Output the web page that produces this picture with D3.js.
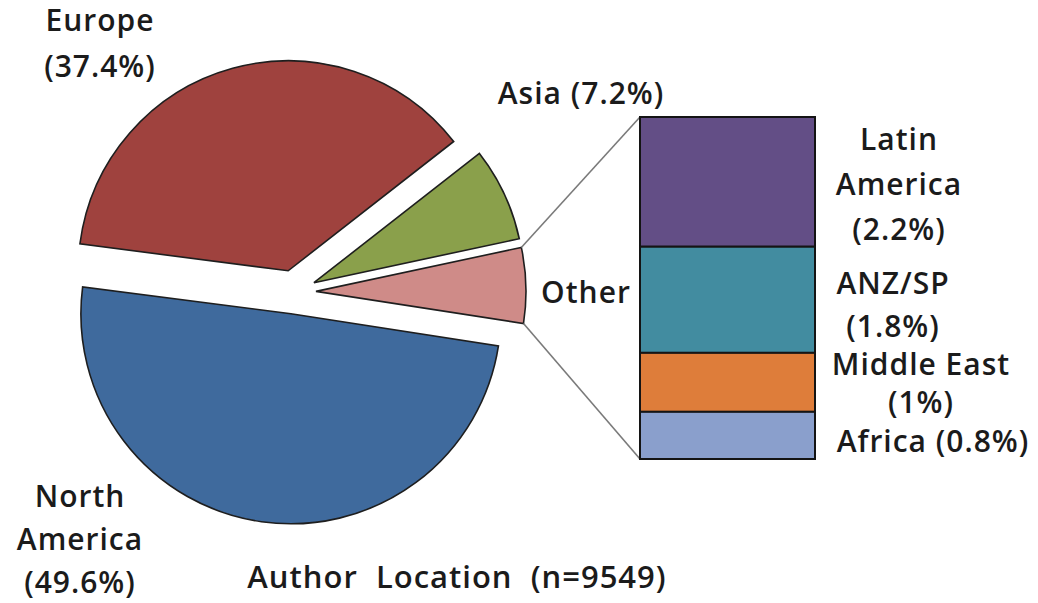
<!DOCTYPE html>
<html lang="en">
<head>
	<meta charset="UTF-8">
	<title>Author Location</title>
	<script type="text/javascript" src="https://cdn.jsdelivr.net/npm/d3@7/dist/d3.min.js"></script>
	<style>
		body {
			margin: 0;
			background: #fff;
		}

		svg text {
			font-family: "Open Sans", Lato, sans-serif;
			font-weight: 600;
			font-size: 30px;
			letter-spacing: 1px;
			fill: #1b1b1b;
			white-space: pre;
		}

		svg text.title {
			font-size: 31px;
		}
	</style>
</head>
<body>
<div id="chart"></div>

<script type="text/javascript">
	// main pie
	var regions = ['Asia', 'Other', 'North America', 'Europe'];
	var regionShares = [7.2, 5.8, 49.6, 37.4];
	var regionColors = ['#8aa04b', '#cf8b88', '#3f6a9d', '#9f423e'];

	// "Other" broken out into the bar
	var otherRegions = ['Latin America', 'ANZ/SP', 'Middle East', 'Africa'];
	var otherShares = [2.2, 1.8, 1, 0.8];
	var otherColors = ['#634e86', '#428ca0', '#de7d3a', '#8a9fcc'];

	var title = 'Author  Location  (n=9549)';

	var width = 1038, height = 603;
	var cx = 294, cy = 292, radius = 210, explode = 22;

	var svg = d3.select('#chart')
		.append('svg')
		.attr('width', width)
		.attr('height', height);

	var pieData = regions.map(function (d, i) {
		return {name: d, value: regionShares[i], color: regionColors[i]};
	});

	var start = 52 * Math.PI / 180;
	var pie = d3.pie()
		.sort(null)
		.value(function (d) { return d.value; })
		.startAngle(start)
		.endAngle(start + 2 * Math.PI);

	var arc = d3.arc()
		.innerRadius(0)
		.outerRadius(radius);

	var slices = pie(pieData);

	function offset(d) {
		var a = (d.startAngle + d.endAngle) / 2;
		return [explode * Math.sin(a), -explode * Math.cos(a)];
	}

	svg.append('g')
		.attr('transform', 'translate(' + cx + ',' + cy + ')')
		.selectAll('.slice')
		.data(slices)
		.enter().append('path')
		.attr('class', 'slice')
		.attr('transform', function (d) {
			var o = offset(d);
			return 'translate(' + o[0] + ',' + o[1] + ')';
		})
		.attr('d', arc)
		.style('fill', function (d) { return d.data.color; })
		.style('stroke', '#1e1e1e')
		.style('stroke-width', 1.6)
		.style('stroke-linejoin', 'miter');

	// bar for the "Other" slice
	var barX = 640, barW = 175, barTop = 117, barBottom = 459;
	var total = d3.sum(otherShares);
	var y = d3.scaleLinear()
		.domain([0, total])
		.range([barTop, barBottom]);

	var cum = 0;
	var stacked = otherRegions.map(function (d, i) {
		var s = {name: d, y0: cum, y1: cum + otherShares[i], color: otherColors[i]};
		cum += otherShares[i];
		return s;
	});

	// connector lines from the Other slice to the bar
	var other = slices[1];
	var oo = offset(other);
	function edge(a) {
		return [cx + oo[0] + radius * Math.sin(a), cy + oo[1] - radius * Math.cos(a)];
	}
	var pTop = edge(other.startAngle), pBot = edge(other.endAngle);

	svg.append('line')
		.attr('x1', pTop[0]).attr('y1', pTop[1])
		.attr('x2', barX).attr('y2', y(0))
		.style('stroke', '#7a7a7a').style('stroke-width', 1.6);
	svg.append('line')
		.attr('x1', pBot[0]).attr('y1', pBot[1])
		.attr('x2', barX).attr('y2', y(total))
		.style('stroke', '#7a7a7a').style('stroke-width', 1.6);

	svg.selectAll('.seg')
		.data(stacked)
		.enter().append('rect')
		.attr('class', 'seg')
		.attr('x', barX)
		.attr('y', function (d) { return y(d.y0); })
		.attr('width', barW)
		.attr('height', function (d) { return y(d.y1) - y(d.y0); })
		.style('fill', function (d) { return d.color; })
		.style('stroke', '#141414')
		.style('stroke-width', 2);

	// labels
	function label(lines, x, y0, lh, cls) {
		var t = svg.append('text')
			.attr('class', cls || null)
			.attr('x', x)
			.attr('y', y0)
			.style('text-anchor', 'middle');
		lines.forEach(function (l, i) {
			t.append('tspan')
				.attr('x', x)
				.attr('y', y0 + i * lh)
				.text(l);
		});
	}

	function pct(v) { return '(' + v + '%)'; }

	label(['Europe', pct(regionShares[3])], 100, 31, 46);
	label(['North', 'America', pct(regionShares[2])], 80, 507, 43);
	label([regions[0] + ' ' + pct(regionShares[0])], 581, 104, 0);
	label([regions[1]], 586, 303, 0);

	label(['Latin', 'America', pct(otherShares[0])], 899, 150, 45);
	label([otherRegions[1], pct(otherShares[1])], 893, 294, 43);
	label([otherRegions[2], pct(otherShares[2])], 921, 375, 38);
	label([otherRegions[3] + ' ' + pct(otherShares[3])], 933, 452, 0);

	label([title], 457, 588, 0, 'title');
</script>
</body>
</html>
